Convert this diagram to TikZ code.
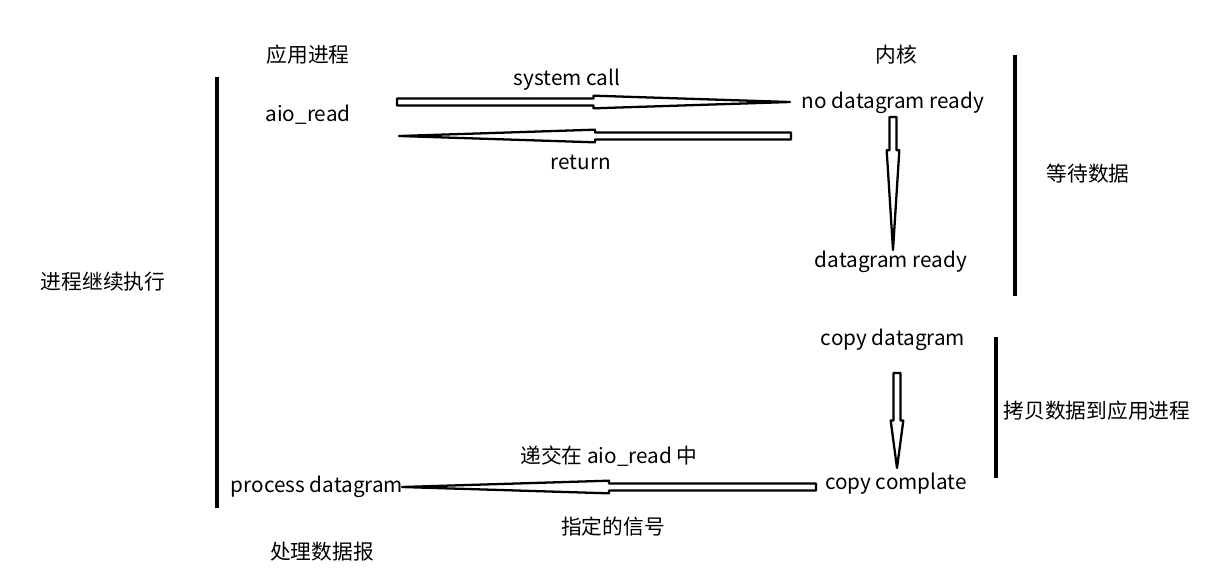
\documentclass[tikz,border=0pt]{standalone}
\usepackage{fontspec}
\setmainfont{Noto Sans CJK SC}
\usetikzlibrary{calc}
\tikzset{
  lbl/.style={font=\fontsize{11.8}{14}\selectfont, inner sep=2pt},
  bar/.style={line width=1.9pt},
  hollow/.style={line width=1.3pt, fill=white, line join=round},
}
% hollow band from #1 to #2, widening at pos #3, then tapering to a point
\newcommand{\hollowarrow}[3]{%
  \path (#1) -- coordinate[pos=#3] (hm) (#2);
  \draw[hollow] ($(#1)!2pt!90:(#2)$) -- ($(hm)!2pt!90:(#2)$) -- ($(hm)!3.6pt!90:(#2)$)
    -- (#2) -- ($(hm)!3.6pt!-90:(#2)$) -- ($(hm)!2pt!-90:(#2)$) -- ($(#1)!2pt!-90:(#2)$) -- cycle;
}

\begin{document}
\begin{tikzpicture}[x=0.02cm,y=-0.02cm]
\fill[white] (0,0) rectangle (1227,579);
% titles
\node[lbl] (app) at (308,55) {应用进程};
\node[lbl] (kern) at (896,55) {内核};
% process side
\node[lbl] (aio) at (308,115) {aio\_read};
\node[lbl] (proc) at (317,487) {process datagram};
\node[lbl] (handle) at (322,552) {处理数据报};
\node[lbl] (goon) at (103,282) {进程继续执行};
% kernel side
\node[lbl] (nodat) at (893,103) {no datagram ready};
\node[lbl] (dready) at (891,262) {datagram ready};
\node[lbl] (copyd) at (893,340) {copy datagram};
\node[lbl] (copyc) at (896,484) {copy complate};
\node[lbl] (waitd) at (1088,174) {等待数据};
\node[lbl] (copyto) at (1097,411) {拷贝数据到应用进程};
% arrow labels
\node[lbl] (syscall) at (567,80) {system call};
\node[lbl] (ret) at (581,162) {return};
\node[lbl] (deliver) at (609,456) {递交在 aio\_read 中};
\node[lbl] (signal) at (613,527) {指定的信号};

% brackets
\coordinate (ltop) at (217,77);
\coordinate (lbot) at (217,508);
\coordinate (wtop) at (1015,55);
\coordinate (wbot) at (1015,296);
\coordinate (ctop) at (996,337);
\coordinate (cbot) at (996,478);
\draw[bar] (ltop) -- (lbot);
\draw[bar] (wtop) -- (wbot);
\draw[bar] (ctop) -- (cbot);

% arrows
\coordinate (callA) at (397,102);
\coordinate (callB) at (790,102);
\coordinate (retA) at (791,136);
\coordinate (retB) at (399,136);
\coordinate (waitA) at (893,117);
\coordinate (waitB) at (893,250);
\coordinate (copyA) at (897,373);
\coordinate (copyB) at (897,468);
\coordinate (sigA) at (816,487);
\coordinate (sigB) at (402,487);
\hollowarrow{callA}{callB}{0.5}
\hollowarrow{retA}{retB}{0.5}
\hollowarrow{waitA}{waitB}{0.25}
\hollowarrow{copyA}{copyB}{0.5}
\hollowarrow{sigA}{sigB}{0.5}
\end{tikzpicture}
\end{document}
